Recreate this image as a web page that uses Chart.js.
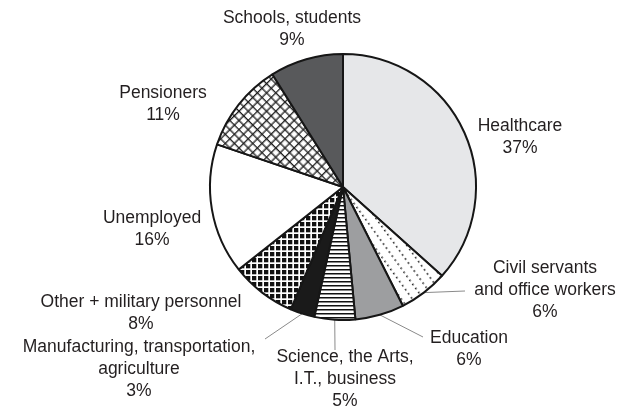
<!DOCTYPE html>
<html>
<head>
<meta charset="utf-8">
<script src="https://cdn.jsdelivr.net/npm/chart.js@4.4.1/dist/chart.umd.min.js"></script>
<style>
  html, body { margin: 0; padding: 0; background: #ffffff; }
  #wrap { width: 635px; height: 416px; }
</style>
</head>
<body>
<div id="wrap"><canvas id="c" width="635" height="416"></canvas></div>
<script>
// Occupation groups, clockwise from twelve o'clock
const categories = [
  ['Healthcare'],
  ['Civil servants', 'and office workers'],
  ['Education'],
  ['Science, the Arts,', 'I.T., business'],
  ['Manufacturing, transportation,', 'agriculture'],
  ['Other + military personnel'],
  ['Unemployed'],
  ['Pensioners'],
  ['Schools, students']
];
// Share of each group, in percent
const shares = [37, 6, 6, 5, 3, 8, 16, 11, 9];

// ---- fill patterns ----
function tile(w, h, paint) {
  const c = document.createElement('canvas');
  c.width = w; c.height = h;
  const g = c.getContext('2d');
  paint(g, w, h);
  return c;
}
const scratch = document.createElement('canvas').getContext('2d');

function dottedLines() {
  const t = tile(9, 5, (g) => {
    g.fillStyle = '#ffffff'; g.fillRect(0, 0, 9, 5);
    g.fillStyle = '#222222'; g.fillRect(4, 2, 1.6, 1.6);
  });
  const p = scratch.createPattern(t, 'repeat');
  p.setTransform(new DOMMatrix().rotate(-36));
  return p;
}
function hStripes() {
  const t = tile(4, 4, (g) => {
    g.fillStyle = '#ffffff'; g.fillRect(0, 0, 4, 4);
    g.fillStyle = '#111111'; g.fillRect(0, 1, 4, 1.5);
  });
  return scratch.createPattern(t, 'repeat');
}
function blockGrid() {
  const t = tile(6, 6, (g) => {
    g.fillStyle = '#ffffff'; g.fillRect(0, 0, 6, 6);
    g.fillStyle = '#111111'; g.fillRect(0, 0, 4.3, 4.3);
  });
  return scratch.createPattern(t, 'repeat');
}
function crossHatch() {
  const t = tile(13, 13, (g) => {
    g.fillStyle = '#ffffff'; g.fillRect(0, 0, 13, 13);
    g.fillStyle = '#1a1a1a';
    g.fillRect(0, 0, 13, 1.3); g.fillRect(0, 6.5, 13, 1.3);
    g.fillRect(0, 0, 1.3, 13); g.fillRect(6.5, 0, 1.3, 13);
  });
  const p = scratch.createPattern(t, 'repeat');
  p.setTransform(new DOMMatrix().rotate(45));
  return p;
}

const fills = [
  '#e6e7e9',
  dottedLines(),
  '#9d9ea0',
  hStripes(),
  '#1a1a1a',
  blockGrid(),
  '#ffffff',
  crossHatch(),
  '#58595b'
];

// ---- outside labels with leader lines ----
const sliceLabels = {
  id: 'sliceLabels',
  beforeDatasetsDraw(chart, args, opts) {
    const ctx = chart.ctx;
    const meta = chart.getDatasetMeta(0);
    ctx.save();
    ctx.strokeStyle = opts.leaderColor;
    ctx.lineWidth = 1;
    meta.data.forEach((arc, i) => {
      const lead = opts.leaders[i];
      if (!lead) return;
      const mid = (arc.startAngle + arc.endAngle) / 2;
      const r = arc.outerRadius;
      ctx.beginPath();
      ctx.moveTo(arc.x + Math.cos(mid) * r, arc.y + Math.sin(mid) * r);
      ctx.lineTo(arc.x + lead[0], arc.y + lead[1]);
      ctx.stroke();
    });
    ctx.restore();
  },
  afterDatasetsDraw(chart, args, opts) {
    const ctx = chart.ctx;
    const meta = chart.getDatasetMeta(0);
    const labels = chart.data.labels;
    const values = chart.data.datasets[0].data;
    ctx.save();
    ctx.font = opts.font;
    ctx.fillStyle = opts.color;
    ctx.textAlign = 'center';
    ctx.textBaseline = 'middle';
    meta.data.forEach((arc, i) => {
      const lines = [...labels[i], values[i] + '%'];
      const place = opts.places[i];
      const cx = arc.x + place[0];
      const top = arc.y + place[1] - (lines.length - 1) * opts.lineHeight / 2;
      lines.forEach((s, k) => ctx.fillText(s, cx, top + k * opts.lineHeight));
    });
    ctx.restore();
  }
};

new Chart(document.getElementById('c'), {
  type: 'pie',
  data: {
    labels: categories,
    datasets: [{
      data: shares,
      backgroundColor: fills,
      borderColor: '#161616',
      borderWidth: 2,
      radius: 133
    }]
  },
  options: {
    responsive: false,
    animation: false,
    layout: { padding: { left: 60, right: 9, top: 20, bottom: 62 } },
    plugins: {
      legend: { display: false },
      tooltip: { enabled: false },
      sliceLabels: {
        font: '17.5px "Liberation Sans", Arial, sans-serif',
        color: '#231f20',
        lineHeight: 21.8,
        leaderColor: '#8a8a8a',
        // label block centres, relative to the pie centre
        places: [
          [177, -50], [202, 103], [126, 162], [2, 192], [-204, 182],
          [-202, 126], [-191, 42], [-180, -83], [-51, -158]
        ],
        // leader line end points, relative to the pie centre
        leaders: [
          null, [122, 104], [80, 150], [-8, 163], [-78, 152],
          null, null, null, null
        ]
      }
    }
  },
  plugins: [sliceLabels]
});
</script>
</body>
</html>
